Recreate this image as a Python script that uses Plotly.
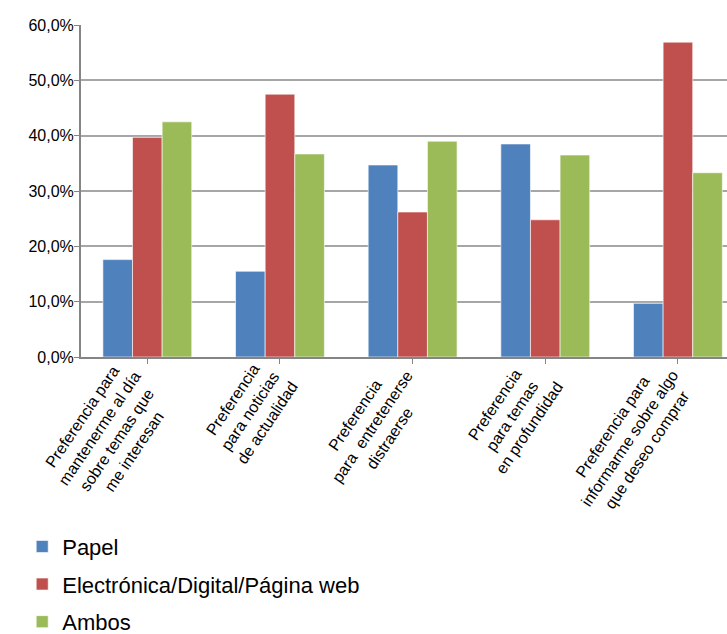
import plotly.graph_objects as go

categories = [
    "Preferencia para<br>mantenerme al día<br>sobre temas que<br>me interesan",
    "Preferencia<br>para noticias<br>de actualidad",
    "Preferencia<br>para  entretenerse<br>distraerse",
    "Preferencia<br>para temas<br>en profundidad",
    "Preferencia para<br>informarme sobre algo<br>que deseo comprar",
]
papel = [17.6, 15.5, 34.7, 38.5, 9.7]
electronica = [39.7, 47.5, 26.2, 24.8, 56.9]
ambos = [42.5, 36.7, 39.0, 36.5, 33.3]
series_names = ["Papel", "Electrónica/Digital/Página web", "Ambos"]
colors = ["#4F81BD", "#C0504D", "#9BBB59"]

FONT = "Liberation Sans, Arial, sans-serif"
LABEL_SIZE = 16
LABEL_ANGLE = -56
LINE_SHIFT = 10

fig = go.Figure()
for name, vals, col in zip(series_names, [papel, electronica, ambos], colors):
    fig.add_trace(go.Bar(
        x=list(range(len(categories))), y=vals, name=name, legendgroup=name,
        marker=dict(color=col, line=dict(color="rgba(255,255,255,0.6)", width=1)),
    ))

# category labels: centred multi-line rotated text
for i, lab in enumerate(categories):
    n = lab.count("<br>") + 1
    fig.add_annotation(
        x=i, y=0, xref="x", yref="paper", text=lab, showarrow=False,
        textangle=LABEL_ANGLE, align="center", xanchor="right", yanchor="top",
        xshift=LINE_SHIFT * n - 6, yshift=4,
        font=dict(family=FONT, size=LABEL_SIZE, color="#000"),
    )

fig.update_layout(
    width=727, height=634,
    margin=dict(l=81, r=0, t=25, b=277, autoexpand=False),
    paper_bgcolor="white", plot_bgcolor="white",
    barmode="group", bargap=0.33, bargroupgap=0,
    separators=", ",
    font=dict(family=FONT, color="#000000", size=16),
    showlegend=True,
    legend=dict(
        orientation="v", x=-0.091, y=-0.508, xanchor="left", yanchor="top",
        font=dict(family=FONT, size=22, color="#000"),
        itemwidth=30, tracegroupgap=6,
    ),
)
fig.update_xaxes(
    tickmode="array", tickvals=list(range(len(categories))),
    showticklabels=False,
    range=[-0.5, 4.37],
    showline=True, linecolor="#858585", linewidth=2,
    ticks="outside", ticklen=5, tickcolor="#858585", tickson="boundaries",
    showgrid=False,
)
fig.update_yaxes(
    range=[0, 60], dtick=10, tickformat=".1f", ticksuffix="%",
    showline=True, linecolor="#858585", linewidth=2,
    ticks="outside", ticklen=5, tickcolor="#858585",
    gridcolor="#A6A6A6", gridwidth=1.5,
    tickfont=dict(family=FONT, size=16), zeroline=False,
    ticklabelstandoff=-3,
)

fig.write_html("out.html")
